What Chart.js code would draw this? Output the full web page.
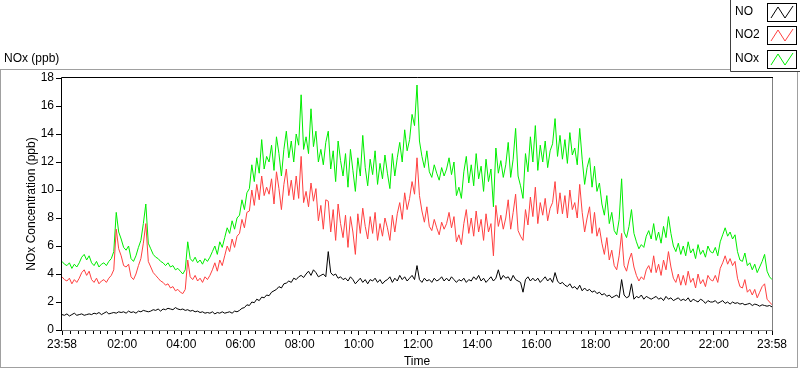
<!DOCTYPE html>
<html>
<head>
<meta charset="utf-8">
<script src="https://cdn.jsdelivr.net/npm/chart.js@4/dist/chart.umd.min.js"></script>
<style>
  html, body { margin: 0; padding: 0; background: #fff; }
  #wrap { position: relative; width: 800px; height: 369px; }
</style>
</head>
<body>
<div id="wrap"><canvas id="noxChart" width="800" height="369"></canvas></div>
<script>
// samples every 5 minutes, first one at 23:58 of the previous day
const startMinute = -2;
const stepMinutes = 5;

// one row per hour (12 samples), last value is 23:58
const noValues = [
  1.1, 1.05, 1.15, 1.0, 1.1, 1.2, 1.05, 1.1, 1.15, 1.05, 1.1, 1.15,
  1.1, 1.2, 1.15, 1.25, 1.1, 1.2, 1.3, 1.15, 1.2, 1.25, 1.2, 1.3,
  1.25, 1.3, 1.2, 1.35, 1.25, 1.3, 1.2, 1.35, 1.3, 1.4, 1.35, 1.3,
  1.35, 1.45, 1.4, 1.5, 1.35, 1.5, 1.45, 1.55, 1.5, 1.45, 1.6, 1.5,
  1.45, 1.5, 1.4, 1.45, 1.35, 1.4, 1.3, 1.35, 1.25, 1.3, 1.2, 1.25,
  1.2, 1.3, 1.15, 1.25, 1.2, 1.3, 1.2, 1.25, 1.3, 1.2, 1.35, 1.3,
  1.4, 1.55, 1.6, 1.8, 1.75, 2.0, 1.95, 2.2, 2.1, 2.35, 2.3, 2.5,
  2.45, 2.7, 2.8, 2.9, 3.1, 3.0, 3.3, 3.35, 3.5, 3.4, 3.7, 3.6,
  3.8, 3.9, 3.75, 4.0, 4.2, 3.9, 4.3, 4.1, 3.8, 3.9, 4.0, 3.8,
  5.6, 4.1, 3.9, 4.0, 3.7, 3.8, 3.6, 3.7, 3.5, 3.8, 3.6, 3.3,
  3.5, 3.7, 3.4, 3.6, 3.3, 3.6, 3.5, 3.7, 3.4, 3.6, 3.3, 3.5,
  3.6, 3.8, 3.4, 3.7, 3.5, 3.9, 3.6, 3.8, 3.5, 3.7, 3.9, 3.6,
  4.6, 3.6, 3.4, 3.7, 3.5, 3.6, 3.4, 3.7, 3.5, 3.6, 3.8, 3.5,
  3.7, 3.5, 3.8, 3.6, 3.4, 3.6, 3.5, 3.7, 3.4, 3.6, 3.5, 3.8,
  3.6, 3.9, 3.5, 3.7, 3.4, 3.6, 3.8, 3.5, 3.7, 4.3, 3.6, 3.9,
  3.7, 3.8, 3.5, 3.9, 3.6, 3.5, 3.4, 2.7, 3.6, 3.8, 3.5, 3.7,
  3.5, 3.7, 3.4, 3.6, 3.8, 3.5, 3.7, 3.4, 4.1, 3.5, 3.3, 3.4,
  3.2, 3.1, 3.3, 3.0, 3.1, 2.9, 3.2, 2.8, 3.0, 2.8, 2.9, 2.7,
  2.8, 2.6, 2.7, 2.5, 2.6, 2.4, 2.5, 2.3, 2.4, 2.5, 2.3, 3.6,
  2.5, 2.3, 2.4, 3.3, 2.2, 2.4, 2.3, 2.5, 2.2, 2.4, 2.3, 2.2,
  2.3, 2.4, 2.2, 2.3, 2.1, 2.4, 2.2, 2.3, 2.1, 2.2, 2.3, 2.1,
  2.2, 2.1, 2.3, 2.0, 2.2, 2.1, 2.0, 2.2, 2.1, 1.9, 2.1, 2.0,
  2.0, 2.1, 1.9, 2.0, 2.1, 1.9, 2.0, 1.85, 2.0, 1.9, 1.95, 1.85,
  1.9, 1.8, 1.85, 1.9, 1.75, 1.85, 1.8, 1.7, 1.8, 1.75, 1.7, 1.75,
  1.65
];

const no2Values = [
  3.8, 3.6, 3.5, 3.7, 3.3, 3.6, 3.4, 3.7, 4.1, 4.3, 3.9, 4.2,
  3.6, 3.4, 3.7, 3.3, 3.5, 3.6, 3.4, 3.7, 3.9, 4.3, 7.2, 5.8,
  5.3, 4.6, 4.5, 4.7, 3.8, 3.6, 4.0, 4.6, 5.1, 6.2, 7.6, 4.9,
  4.5, 4.1, 3.9, 3.7, 3.5, 3.4, 3.2, 3.3, 3.0, 3.1, 2.8, 2.9,
  2.7, 2.6, 2.9, 5.0, 3.8, 3.6, 3.9, 3.5, 3.7, 3.4, 3.8, 3.6,
  3.9, 4.3, 4.8, 4.2, 5.0, 4.6, 5.3, 6.0, 5.6, 6.5, 5.9, 6.7,
  6.9, 7.9, 7.3, 8.4, 8.5, 10.0, 8.9, 10.4, 9.3, 11.0, 9.6, 10.2,
  9.7, 10.8, 9.0, 11.3, 10.1, 8.6, 10.4, 11.5, 9.6, 10.7, 9.3, 11.0,
  9.4, 12.4, 9.1, 9.9, 8.8, 10.5, 9.2, 10.1, 7.8, 8.9, 7.2, 9.3,
  9.2, 7.0, 8.6, 6.4, 9.0, 7.6, 6.6, 8.2, 5.9, 8.1, 7.0, 5.4,
  8.3, 6.9, 8.7, 7.4, 6.5, 8.1, 6.9, 8.4, 6.4, 7.6, 6.7, 8.0,
  7.3, 6.4, 8.2, 7.0, 8.3, 9.1, 7.9, 9.8, 8.6, 9.4, 10.6, 9.7,
  12.3, 9.6, 8.5, 7.7, 8.8, 7.4, 7.1, 7.9, 7.3, 6.8, 7.7, 7.2,
  7.6, 8.4, 7.3, 8.1, 6.3, 6.8, 6.1, 7.6, 8.6, 6.9, 8.0, 6.7,
  8.5, 7.0, 7.9, 6.4, 8.3, 7.0, 7.6, 5.3, 8.9, 7.4, 8.2, 7.2,
  8.0, 9.3, 7.2, 8.4, 9.7, 7.1, 6.7, 6.4, 8.6, 7.5, 9.5, 8.1,
  10.2, 7.6, 9.1, 8.2, 9.4, 7.8, 8.7, 9.1, 10.6, 8.3, 9.8, 8.3,
  9.6, 8.0, 10.0, 8.6, 9.1, 8.0, 10.4, 8.4, 7.0, 8.0, 8.8, 6.9,
  8.4, 6.7, 7.3, 6.2, 5.4, 6.6, 5.0, 5.7, 4.6, 4.3, 5.3, 6.9,
  4.6, 4.2, 5.0, 5.5, 4.5, 3.9, 3.5, 3.8, 3.6, 4.3, 4.6, 4.1,
  5.3, 4.1, 4.7, 3.9, 5.0, 4.3, 5.6, 4.5, 3.7, 3.4, 4.0, 3.2,
  3.9, 3.2, 4.2, 3.4, 3.7, 3.0, 4.0, 3.3, 3.6, 3.1, 3.9, 3.6,
  3.5, 3.9, 3.4, 4.4, 4.8, 5.3, 4.7, 5.1, 4.6, 4.9, 3.7, 3.1,
  3.0, 3.6, 2.7, 2.9, 2.5, 2.9, 2.3, 2.7, 3.1, 3.3, 2.2, 2.0,
  1.8
];

const noxValues = [
  4.9, 4.7, 4.6, 4.8, 4.4, 4.7, 4.5, 4.8, 5.2, 5.4, 5.0, 5.3,
  4.8, 4.6, 4.9, 4.5, 4.7, 4.8, 4.6, 4.9, 5.1, 5.6, 8.4, 7.0,
  6.5, 5.9, 5.7, 6.0, 5.1, 4.9, 5.3, 5.9, 6.4, 7.6, 9.0, 6.2,
  5.8, 5.4, 5.2, 5.1, 4.9, 4.8, 4.6, 4.8, 4.5, 4.6, 4.3, 4.4,
  4.2, 4.0, 4.3, 6.3, 5.1, 4.9, 5.2, 4.8, 5.0, 4.7, 5.1, 4.9,
  5.2, 5.6, 6.0, 5.4, 6.3, 5.9, 6.6, 7.3, 6.9, 7.8, 7.2, 8.0,
  8.2, 9.3, 8.6, 9.8, 10.1, 11.8, 10.6, 12.3, 11.2, 13.6, 11.5, 12.4,
  12.0, 13.2, 11.4, 13.8, 12.6, 11.0, 12.9, 14.2, 12.3, 13.5, 12.0, 14.0,
  13.2, 16.8, 12.9, 13.8, 12.6, 15.8, 13.1, 14.2, 12.0, 12.9, 11.8, 13.4,
  14.2, 11.5, 12.8, 10.6, 13.5, 12.1, 11.0, 12.6, 10.2, 12.9, 11.4, 9.9,
  12.3, 11.0, 13.9, 11.6, 10.3, 12.2, 11.1, 12.8, 10.4, 11.9, 10.8, 12.5,
  11.2, 10.1, 12.6, 11.0, 12.3, 13.4, 12.0, 14.3, 12.8, 13.6, 15.4, 14.6,
  17.5, 13.5, 12.4, 11.6, 12.8, 11.3, 10.9, 11.8, 11.2, 10.7, 11.6, 11.0,
  11.5, 12.3, 11.1, 12.0, 9.6, 10.2, 9.4, 11.3, 12.4, 10.5, 11.8, 10.3,
  12.6, 10.8, 11.7, 9.9, 12.2, 10.6, 11.5, 8.8, 13.0, 11.2, 12.1, 10.9,
  11.8, 13.4, 10.9, 12.2, 14.4, 11.0, 10.3, 9.4, 12.6, 11.3, 13.8, 12.0,
  14.6, 11.4, 13.2, 12.0, 13.5, 11.6, 12.8, 13.3, 15.1, 12.4, 13.9, 12.2,
  13.6, 11.9, 14.1, 12.5, 13.0, 11.8, 14.4, 12.2, 10.4, 11.6, 12.3, 10.2,
  11.7, 9.9, 10.5, 9.0, 8.2, 9.6, 7.6, 8.4, 7.1, 6.8, 7.9, 10.8,
  7.0, 6.6, 7.4, 8.6, 6.9, 6.3, 5.8, 6.1, 5.9, 6.7, 7.1, 6.5,
  7.6, 6.4, 7.0, 6.2, 7.4, 6.6, 8.1, 6.9, 6.0, 5.6, 6.2, 5.4,
  6.0, 5.3, 6.3, 5.5, 5.8, 5.1, 6.1, 5.4, 5.7, 5.2, 6.0, 5.6,
  5.5, 5.9, 5.3, 6.3, 6.8, 7.3, 6.7, 7.0, 6.5, 6.8, 5.6, 5.0,
  4.9, 5.5, 4.6, 4.8, 4.3, 4.7, 4.1, 4.5, 4.9, 5.4, 4.2, 3.8,
  3.6
];

// x tick positions in minutes from midnight
const xTickMinutes = [-2, 120, 240, 360, 480, 600, 720, 840, 960, 1080, 1200, 1320, 1438];
const seriesNames = ['NO', 'NO2', 'NOx'];
const seriesColors = ['#000000', '#ff4040', '#00ee00'];

const FONT = 'Liberation Sans, Arial, sans-serif';

const times = noValues.map((v, i) => startMinute + i * stepMinutes);
const toPoints = (vals) => vals.map((v, i) => ({ x: times[i], y: v }));

function fmtTime(v) {
    const m = ((v % 1440) + 1440) % 1440;
    const h = Math.floor(m / 60), mm = m % 60;
    return String(h).padStart(2, '0') + ':' + String(mm).padStart(2, '0');
}

// frame, minor ticks, legend and top label
const decorPlugin = {
    id: 'decor',
    beforeDraw(chart) {
        const ctx = chart.ctx;
        ctx.save();
        ctx.fillStyle = '#fff';
        ctx.fillRect(0, 0, chart.width, chart.height);
        ctx.strokeStyle = '#a0a0a0';
        ctx.lineWidth = 1;
        ctx.strokeRect(0.5, 69.5, 797, 298);
        ctx.fillStyle = '#000';
        ctx.font = '12px ' + FONT;
        ctx.textBaseline = 'middle';
        ctx.fillText('NOx (ppb)', 4, 59);
        ctx.restore();
    },
    afterDraw(chart) {
        const ctx = chart.ctx;
        const a = chart.chartArea;
        const xs = chart.scales.x;
        ctx.save();
        ctx.lineWidth = 1;
        // plot frame
        ctx.strokeStyle = '#808080';
        ctx.beginPath();
        ctx.moveTo(a.right + 0.5, a.top);
        ctx.lineTo(a.right + 0.5, a.bottom + 0.5);
        ctx.lineTo(a.left, a.bottom + 0.5);
        ctx.stroke();
        ctx.strokeStyle = '#000';
        ctx.beginPath();
        ctx.moveTo(a.left - 0.5, a.bottom);
        ctx.lineTo(a.left - 0.5, a.top - 0.5);
        ctx.lineTo(a.right + 1, a.top - 0.5);
        ctx.stroke();
        // minor ticks every 15 minutes
        ctx.beginPath();
        for (let m = 0; m <= 1440; m += 15) {
            if (xTickMinutes.some(t => Math.abs(t - m) < 5)) continue;
            const px = Math.round(xs.getPixelForValue(m)) + 0.5;
            ctx.moveTo(px, a.bottom + 1);
            ctx.lineTo(px, a.bottom + 4);
        }
        ctx.stroke();
        // legend box
        ctx.fillStyle = '#fff';
        ctx.fillRect(730, 0, 70, 72);
        ctx.strokeStyle = '#404040';
        ctx.beginPath();
        ctx.moveTo(730.5, 0);
        ctx.lineTo(730.5, 71.5);
        ctx.lineTo(800, 71.5);
        ctx.stroke();
        const rowTop = [3, 26, 50];
        ctx.font = '12px ' + FONT;
        ctx.textBaseline = 'middle';
        seriesNames.forEach((name, i) => {
            const y0 = rowTop[i];
            ctx.fillStyle = '#000';
            ctx.fillText(name, 735, y0 + 9);
            ctx.strokeStyle = '#000';
            ctx.strokeRect(767.5, y0 + 0.5, 29, 18);
            ctx.strokeStyle = seriesColors[i];
            ctx.beginPath();
            ctx.moveTo(771, y0 + 15);
            ctx.lineTo(778, y0 + 4);
            ctx.lineTo(785, y0 + 15);
            ctx.lineTo(793, y0 + 3);
            ctx.stroke();
        });
        ctx.restore();
    }
};

new Chart(document.getElementById('noxChart'), {
    type: 'line',
    data: {
        datasets: seriesNames.map((name, i) => ({
            label: name,
            data: toPoints([noValues, no2Values, noxValues][i]),
            borderColor: seriesColors[i],
            borderWidth: 1,
            pointRadius: 0,
            tension: 0,
            fill: false
        }))
    },
    options: {
        responsive: false,
        animation: false,
        devicePixelRatio: 1,
        layout: { padding: { top: 78, right: 28, left: 0, bottom: 0 } },
        plugins: {
            legend: { display: false },
            tooltip: { enabled: false }
        },
        scales: {
            x: {
                type: 'linear',
                min: -2,
                max: 1438,
                afterBuildTicks: (scale) => { scale.ticks = xTickMinutes.map(v => ({ value: v })); },
                afterFit: (scale) => { scale.height = 39; },
                ticks: {
                    autoSkip: false,
                    maxRotation: 0,
                    padding: 2,
                    color: '#000',
                    font: { family: FONT, size: 12 },
                    callback: (v) => fmtTime(v)
                },
                grid: { drawOnChartArea: false, tickLength: 5, color: '#000' },
                border: { display: false },
                title: { display: true, text: 'Time', color: '#000', font: { family: FONT, size: 12 }, padding: 0 }
            },
            y: {
                min: 0,
                max: 18,
                afterFit: (scale) => { scale.width = 62; },
                ticks: {
                    stepSize: 2,
                    padding: 2,
                    color: '#000',
                    font: { family: FONT, size: 12 }
                },
                grid: { drawOnChartArea: false, tickLength: 6, color: '#000' },
                border: { display: false },
                title: { display: true, text: 'NOx Concentration (ppb)', color: '#000', font: { family: FONT, size: 12 }, padding: { top: 24, bottom: 0 } }
            }
        }
    },
    plugins: [decorPlugin]
});
</script>
</body>
</html>
